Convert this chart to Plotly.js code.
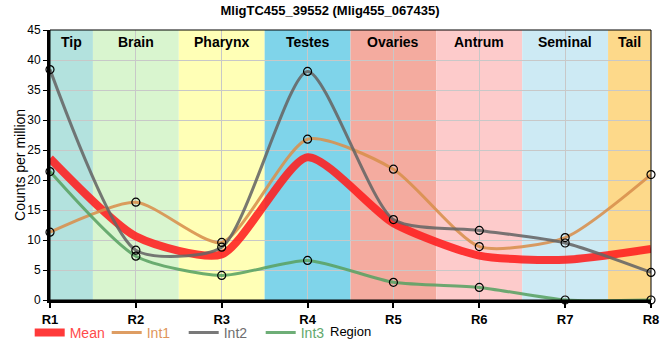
<!DOCTYPE html>
<html><head><meta charset="utf-8">
<script src="https://cdn.plot.ly/plotly-3.0.1.min.js"></script>
<style>body{margin:0;}#chart{width:660px;height:360px;}</style>
</head><body><div id="chart"></div>
<script>
const regions = ['R1','R2','R3','R4','R5','R6','R7','R8'];
const meanVals = [23.6, 10.6, 7.6, 23.8, 12.8, 7.4, 6.7, 8.5];
const int1 = [11.3, 16.3, 9.6, 26.8, 21.8, 8.9, 10.4, 20.9];
const int2 = [38.4, 8.3, 8.8, 38.1, 13.4, 11.6, 9.5, 4.6];
const int3 = [21.4, 7.3, 4.1, 6.6, 2.95, 2.1, 0, 0];
const bandNames = ['Tip','Brain','Pharynx','Testes','Ovaries','Antrum','Seminal','Tail'];
const bandStart = [0, 0.5, 1.5, 2.5, 3.5, 4.5, 5.5, 6.5];
const bandEnd = [0.5, 1.5, 2.5, 3.5, 4.5, 5.5, 6.5, 7];
const bandColors = ['#b3e2de','#d9f5cf','#ffffb6','#7fd4ea','#f4ab9f','#fdcbcb','#cdeaf4','#fdd98a'];
const xTitle = 'Region';
const yTitle = 'Counts per million';

const series = [
  {name:'Mean', y:meanVals, color:'#ff1f1f', text:'#ff4a4a', width:8, markers:false},
  {name:'Int1', y:int1, color:'#d9904d', text:'#e0955a', width:3, markers:true},
  {name:'Int2', y:int2, color:'#666666', text:'#6e6e6e', width:3, markers:true},
  {name:'Int3', y:int3, color:'#5aa364', text:'#62a86c', width:3, markers:true}
];
const traces = [];
series.forEach(s => {
  traces.push({
    x: regions, y: s.y, type:'scatter', mode:'lines',
    name: '<span style="color:'+s.text+'">'+s.name+'</span>',
    line:{color:s.color, width:s.width, shape:'spline', smoothing:0.65},
    opacity: 0.88, hoverinfo:'skip'
  });
});
series.forEach(s => {
  if (!s.markers) return;
  traces.push({
    x: regions, y: s.y, type:'scatter', mode:'markers', showlegend:false,
    marker:{symbol:'circle-open', size:8, color:'#000', line:{width:1.2, color:'#000'}},
    cliponaxis:false, hoverinfo:'skip'
  });
});

const shapes = bandNames.map((n,i)=>({
  type:'rect', xref:'x', yref:'paper', x0:bandStart[i], x1:bandEnd[i], y0:0, y1:1,
  fillcolor:bandColors[i], line:{width:0}, layer:'below'
}));
const annotations = bandNames.map((n,i)=>({
  x:(bandStart[i]+bandEnd[i])/2, y:1, xref:'x', yref:'paper', yanchor:'top', yshift:-2,
  text:'<b>'+n+'</b>', showarrow:false, font:{family:'Arial', size:14, color:'#000'}
}));
annotations.push({x:0.5, y:-0.115, xref:'paper', yref:'paper', xanchor:'center', yanchor:'middle',
  text:xTitle, showarrow:false, font:{family:'Arial', size:13, color:'#000'}});
annotations.push({x:-0.05, y:0.5, xref:'paper', yref:'paper', xanchor:'center', yanchor:'middle', textangle:-90,
  text:yTitle, showarrow:false, font:{family:'Arial', size:14, color:'#000'}});

const layout = {
  width:660, height:360,
  margin:{l:50, r:9, t:30, b:60},
  paper_bgcolor:'#fff', plot_bgcolor:'rgba(0,0,0,0)',
  title:{text:'<b>MligTC455_39552 (Mlig455_067435)</b>', x:0.5, xanchor:'center', y:0.985, yanchor:'top', font:{family:'Arial', size:13, color:'#000'}},
  xaxis:{type:'category', range:[0,7], automargin:false, showgrid:true, gridcolor:'#c8c8c8', gridwidth:1,
    showline:true, linecolor:'#000', linewidth:3, mirror:false, ticks:'outside', ticklen:5, tickwidth:2, tickcolor:'#000',
    tickfont:{family:'Arial', size:13, color:'#000'}, tickprefix:'<b>', ticksuffix:'</b>', zeroline:false},
  yaxis:{range:[0,45], dtick:5, automargin:false, showgrid:true, gridcolor:'#c8c8c8', gridwidth:1,
    showline:true, linecolor:'#000', linewidth:3, ticks:'outside', ticklen:4, tickcolor:'#000',
    tickfont:{family:'Arial', size:12, color:'#000'}, zeroline:false},
  shapes: shapes.concat([{type:'rect', xref:'paper', yref:'paper', x0:0, x1:1, y0:0, y1:1, line:{color:'#000', width:1}, layer:'above'}]),
  annotations: annotations,
  legend:{orientation:'h', xref:'container', x:0.045, xanchor:'left', yref:'container', y:0.12, yanchor:'top', font:{family:'Arial', size:14}, bgcolor:'rgba(0,0,0,0)', itemwidth:30, tracegroupgap:0, entrywidth:32, entrywidthmode:'pixels'},
  showlegend:true
};
Plotly.newPlot('chart', traces, layout, {displayModeBar:false, staticPlot:true});
</script></body></html>
